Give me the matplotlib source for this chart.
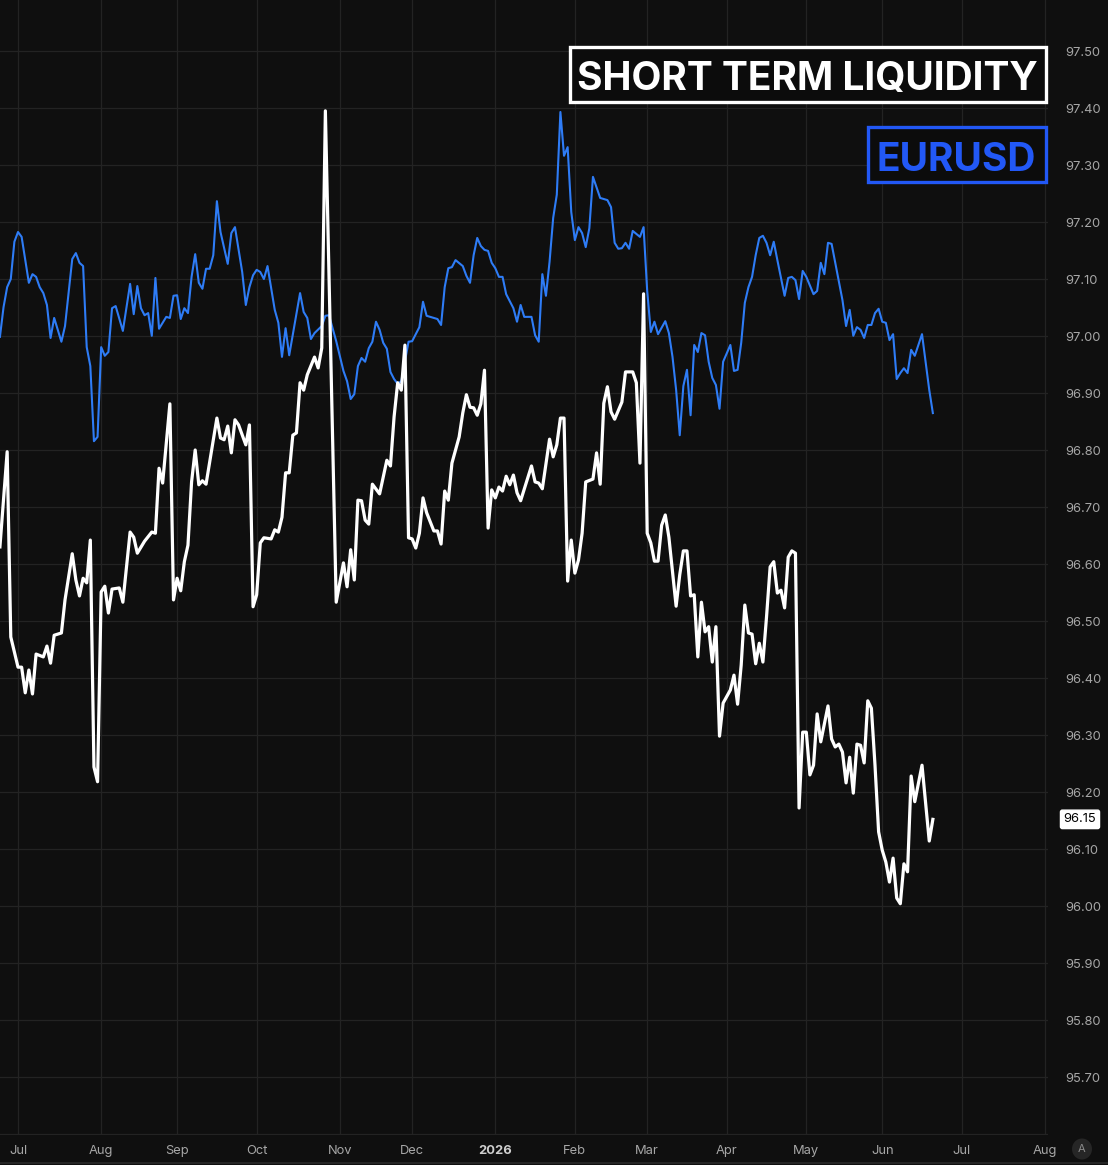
import numpy as np
import pandas as pd
import matplotlib
matplotlib.use("Agg")
import matplotlib.pyplot as plt
from matplotlib.patches import Rectangle, Circle
import matplotlib.transforms as mtransforms

# ---------------- data ----------------
start_date = "2025-06-24"      # session 0
first_month = "2025-07-01"
end_calendar = "2026-08-31"

# Short Term Liquidity (right axis), vertices by trading session
st_session = [0, 2, 3, 5, 6, 7, 8, 9, 10, 12, 13, 14, 15, 17, 18, 20, 21, 22, 23, 24,
              25, 26, 27, 28, 29, 30, 31, 33, 34, 36, 37, 38, 40, 42, 43, 44, 45, 47, 48, 49,
              50, 51, 52, 53, 54, 55, 56, 57, 60, 61, 62, 63, 64, 65, 66, 68, 69, 70, 71, 72,
              73, 75, 76, 77, 78, 79, 80, 81, 82, 83, 84, 85, 87, 88, 89, 90, 93, 95, 96, 97,
              98, 99, 100, 101, 102, 103, 105, 107, 108, 109, 110, 111, 112, 113, 114, 115, 116, 117, 118, 120,
              121, 122, 123, 124, 125, 127, 128, 129, 130, 131, 132, 133, 134, 135, 136, 137, 138, 139, 140, 141,
              142, 143, 144, 147, 148, 149, 150, 152, 153, 154, 155, 156, 157, 158, 159, 160, 161, 162, 164, 165,
              166, 167, 168, 169, 170, 172, 173, 175, 176, 177, 178, 179, 180, 181, 182, 183, 184, 185, 187, 188,
              189, 190, 191, 192, 193, 194, 195, 196, 197, 198, 199, 200, 202, 203, 204, 205, 206, 207, 208, 209,
              210, 211, 212, 213, 214, 215, 216, 217, 218, 219, 220, 221, 222, 223, 224, 225, 226, 227, 229, 230,
              231, 232, 233, 234, 235, 236, 237, 238, 239, 240, 241, 242, 243, 244, 245, 246, 247, 248, 249, 250,
              251, 252, 253, 255, 257, 258]
st_value = [96.630, 96.797, 96.472, 96.419, 96.419, 96.374, 96.414, 96.372, 96.442, 96.437,
            96.456, 96.426, 96.475, 96.479, 96.537, 96.618, 96.572, 96.544, 96.575, 96.567,
            96.642, 96.244, 96.218, 96.551, 96.561, 96.514, 96.556, 96.558, 96.533, 96.656,
            96.647, 96.619, 96.640, 96.656, 96.654, 96.768, 96.742, 96.881, 96.537, 96.575,
            96.553, 96.604, 96.633, 96.744, 96.800, 96.739, 96.746, 96.740, 96.856, 96.821,
            96.818, 96.842, 96.795, 96.853, 96.844, 96.809, 96.844, 96.525, 96.546, 96.637,
            96.646, 96.644, 96.660, 96.656, 96.682, 96.760, 96.760, 96.826, 96.830, 96.918,
            96.905, 96.932, 96.963, 96.944, 96.979, 97.395, 96.533, 96.602, 96.560, 96.625,
            96.572, 96.712, 96.711, 96.677, 96.670, 96.740, 96.723, 96.782, 96.772, 96.858,
            96.918, 96.905, 96.984, 96.646, 96.644, 96.628, 96.654, 96.716, 96.690, 96.658,
            96.658, 96.635, 96.728, 96.712, 96.777, 96.823, 96.865, 96.897, 96.875, 96.874,
            96.861, 96.881, 96.940, 96.663, 96.730, 96.716, 96.735, 96.728, 96.754, 96.739,
            96.756, 96.725, 96.711, 96.772, 96.744, 96.742, 96.732, 96.819, 96.788, 96.809,
            96.856, 96.856, 96.570, 96.642, 96.584, 96.607, 96.654, 96.744, 96.749, 96.795,
            96.740, 96.882, 96.911, 96.867, 96.854, 96.884, 96.937, 96.937, 96.918, 96.777,
            97.074, 96.654, 96.637, 96.605, 96.605, 96.668, 96.686, 96.647, 96.526, 96.581,
            96.623, 96.623, 96.544, 96.546, 96.437, 96.533, 96.481, 96.490, 96.428, 96.490,
            96.298, 96.356, 96.379, 96.405, 96.354, 96.423, 96.528, 96.479, 96.477, 96.425,
            96.461, 96.428, 96.507, 96.595, 96.604, 96.549, 96.554, 96.523, 96.612, 96.623,
            96.619, 96.172, 96.305, 96.305, 96.230, 96.247, 96.337, 96.288, 96.351, 96.293,
            96.279, 96.284, 96.270, 96.216, 96.261, 96.198, 96.284, 96.282, 96.251, 96.360,
            96.347, 96.247, 96.130, 96.098, 96.077, 96.042, 96.084, 96.014, 96.004, 96.074,
            96.060, 96.228, 96.183, 96.247, 96.114, 96.152]

# EURUSD (hidden overlay scale), vertices by trading session
eur_session = [0, 1, 2, 3, 4, 5, 6, 8, 9, 10, 11, 12, 13, 14, 15, 17, 18, 20, 21, 22,
               23, 24, 25, 26, 27, 28, 29, 30, 31, 32, 34, 36, 37, 38, 39, 40, 41, 42, 43, 44,
               46, 47, 48, 49, 50, 51, 52, 53, 54, 55, 56, 57, 58, 59, 60, 61, 63, 64, 65, 67,
               68, 69, 70, 71, 72, 73, 74, 76, 77, 78, 79, 80, 83, 84, 85, 86, 87, 89, 90, 91,
               93, 95, 96, 97, 98, 99, 100, 101, 102, 103, 104, 105, 106, 107, 108, 109, 110, 111, 113, 114,
               116, 117, 118, 121, 122, 123, 124, 125, 126, 128, 129, 130, 131, 132, 133, 134, 135, 136, 137, 138,
               139, 140, 142, 143, 144, 145, 147, 148, 149, 150, 151, 152, 153, 154, 155, 156, 157, 158, 159, 160,
               161, 162, 163, 164, 166, 168, 169, 170, 171, 172, 173, 174, 175, 177, 178, 179, 180, 181, 182, 184,
               185, 186, 187, 188, 189, 190, 191, 192, 193, 194, 195, 196, 197, 198, 199, 200, 202, 203, 204, 205,
               206, 207, 208, 209, 210, 211, 212, 213, 214, 215, 217, 218, 219, 220, 221, 222, 223, 225, 226, 227,
               228, 229, 230, 231, 232, 233, 234, 235, 236, 237, 238, 239, 240, 241, 242, 243, 244, 245, 246, 247,
               248, 249, 250, 251, 252, 253, 255, 257, 258]
eur_value = [1.1607, 1.1662, 1.1699, 1.1714, 1.1783, 1.1801, 1.1792, 1.1707, 1.1723, 1.1718,
             1.1699, 1.1688, 1.1666, 1.1605, 1.1642, 1.1598, 1.1627, 1.1751, 1.1762, 1.1744,
             1.1738, 1.1588, 1.1553, 1.1414, 1.1422, 1.1588, 1.1572, 1.1579, 1.1660, 1.1664,
             1.1618, 1.1705, 1.1649, 1.1701, 1.1660, 1.1647, 1.1651, 1.1609, 1.1716, 1.1622,
             1.1644, 1.1642, 1.1683, 1.1684, 1.1640, 1.1660, 1.1651, 1.1718, 1.1760, 1.1707,
             1.1696, 1.1733, 1.1733, 1.1758, 1.1858, 1.1801, 1.1742, 1.1799, 1.1810, 1.1727,
             1.1666, 1.1699, 1.1721, 1.1731, 1.1727, 1.1714, 1.1738, 1.1657, 1.1633, 1.1570,
             1.1623, 1.1573, 1.1688, 1.1653, 1.1642, 1.1603, 1.1614, 1.1627, 1.1646, 1.1647,
             1.1599, 1.1544, 1.1525, 1.1492, 1.1501, 1.1553, 1.1568, 1.1561, 1.1586, 1.1598,
             1.1635, 1.1620, 1.1596, 1.1585, 1.1542, 1.1529, 1.1520, 1.1525, 1.1598, 1.1599,
             1.1625, 1.1672, 1.1646, 1.1640, 1.1629, 1.1699, 1.1734, 1.1736, 1.1749, 1.1738,
             1.1720, 1.1707, 1.1758, 1.1790, 1.1775, 1.1768, 1.1766, 1.1744, 1.1734, 1.1718,
             1.1718, 1.1686, 1.1660, 1.1635, 1.1666, 1.1644, 1.1644, 1.1610, 1.1598, 1.1723,
             1.1683, 1.1746, 1.1827, 1.1870, 1.2023, 1.1942, 1.1958, 1.1838, 1.1786, 1.1810,
             1.1799, 1.1773, 1.1808, 1.1903, 1.1864, 1.1860, 1.1847, 1.1781, 1.1770, 1.1771,
             1.1781, 1.1770, 1.1803, 1.1792, 1.1810, 1.1692, 1.1616, 1.1635, 1.1612, 1.1636,
             1.1614, 1.1570, 1.1509, 1.1425, 1.1516, 1.1546, 1.1462, 1.1592, 1.1579, 1.1614,
             1.1610, 1.1561, 1.1531, 1.1518, 1.1474, 1.1561, 1.1592, 1.1544, 1.1546, 1.1596,
             1.1670, 1.1699, 1.1718, 1.1758, 1.1790, 1.1794, 1.1781, 1.1758, 1.1783, 1.1749,
             1.1683, 1.1716, 1.1718, 1.1712, 1.1677, 1.1729, 1.1718, 1.1686, 1.1692, 1.1744,
             1.1723, 1.1781, 1.1779, 1.1744, 1.1710, 1.1675, 1.1627, 1.1657, 1.1609, 1.1625,
             1.1620, 1.1605, 1.1629, 1.1629, 1.1651, 1.1659, 1.1635, 1.1633, 1.1601, 1.1612,
             1.1529, 1.1540, 1.1549, 1.1540, 1.1583, 1.1572, 1.1612, 1.1509, 1.1466]

y_ticks = [95.70, 95.80, 95.90, 96.00, 96.10, 96.20, 96.30, 96.40, 96.50, 96.60,
           96.70, 96.80, 96.90, 97.00, 97.10, 97.20, 97.30, 97.40, 97.50]
month_labels = ["Jul", "Aug", "Sep", "Oct", "Nov", "Dec", "2026", "Feb",
                "Mar", "Apr", "May", "Jun", "Jul", "Aug"]
title_main = "SHORT TERM LIQUIDITY"
title_sub = "EURUSD"

# ---------------- style ----------------
BG = "#0f0f0f"
GRID = "#232323"
TXT = "#a6a6a6"
WHITE = "#ffffff"
LINE_BLUE = "#2e7cf6"
TITLE_BLUE = "#2258f6"

plt.rcParams["font.family"] = ["Inter", "DejaVu Sans"]

W, H = 1108, 1165
fig = plt.figure(figsize=(W / 100, H / 100), dpi=100, facecolor=BG)
plot_right, plot_bottom = 1048, 1135
ax = fig.add_axes([0, 1 - plot_bottom / H, plot_right / W, plot_bottom / H])
ax.set_facecolor(BG)
ax2 = ax.twinx()

# calendar of sessions -> month tick positions
sessions = pd.bdate_range(start_date, end_calendar)
sess_idx = pd.Series(np.arange(len(sessions)), index=sessions)
sess_idx = sess_idx[sess_idx.index >= pd.Timestamp(first_month)]
first_of_month = sess_idx.groupby([sess_idx.index.year, sess_idx.index.month]).min()
month_pos = list(first_of_month.values[:len(month_labels)])

px_per_session = 3.616
ax.set_xlim(0.02, 0.02 + plot_right / px_per_session)
ax2.set_ylim(97.5 - (plot_bottom - 51) / 570, 97.5 + 51 / 570)
ax.set_ylim(1.1801 - (plot_bottom - 232) * 0.000185, 1.1801 + 232 * 0.000185)

# grid (vertical at months, horizontal at price ticks) beneath both lines
for m in month_pos:
    ax.axvline(m, color=GRID, lw=0.9, zorder=0)
hgrid_tr = mtransforms.blended_transform_factory(ax.transAxes, ax2.transData)
for t in y_ticks + [95.60]:
    ax.plot([0, 1], [t, t], transform=hgrid_tr, color=GRID, lw=0.9, zorder=0)

# lines
ax.plot(eur_session, eur_value, color=LINE_BLUE, lw=1.5, zorder=2)
ax2.plot(st_session, st_value, color=WHITE, lw=2.3, zorder=2)
ax2.set_zorder(ax.get_zorder() + 1)
ax2.patch.set_visible(False)

ax.set_yticks([])
ax.set_xticks(month_pos)
ax.set_xticklabels(month_labels)
for lbl, txt in zip(ax.get_xticklabels(), month_labels):
    lbl.set_color("#cfcfcf" if txt == "2026" else TXT)
    lbl.set_fontweight("bold" if txt == "2026" else "normal")
    lbl.set_fontsize(9.3)
ax.tick_params(axis="x", length=0, pad=7)

ax2.set_yticks(y_ticks)
ax2.set_yticklabels([f"{t:.2f}" for t in y_ticks])
ax2.tick_params(axis="y", length=0, pad=12.5, labelsize=9.3, labelcolor=TXT)
for a in (ax, ax2):
    for s in a.spines.values():
        s.set_visible(False)

# last value label
last = st_value[-1]
tr = mtransforms.blended_transform_factory(fig.transFigure, ax2.transData)
ax2.text(1080 / W, last, f"{last:.2f}", transform=tr, ha="center", va="center",
         fontsize=9.3, color="#000000", zorder=10, clip_on=False,
         bbox=dict(boxstyle="round,pad=0.25,rounding_size=0.15", fc=WHITE, ec=WHITE))

# title boxes
def fx(px):
    return px / W

def fy(py):
    return 1 - py / H

fig.add_artist(Rectangle((fx(569.5), fy(102)), fx(1045.5) - fx(569.5), fy(46.5) - fy(102),
                         transform=fig.transFigure, fc="#0c0c0c", ec=WHITE, lw=2.4, zorder=20))
fig.text(fx(807.5), fy(90), title_main, ha="center", va="baseline", fontsize=28,
         fontweight="bold", color=WHITE, zorder=21)
fig.add_artist(Rectangle((fx(867.5), fy(182)), fx(1045.5) - fx(867.5), fy(126.5) - fy(182),
                         transform=fig.transFigure, fc="#0c0c0c", ec=TITLE_BLUE, lw=2.4, zorder=20))
fig.text(fx(956.5), fy(171), title_sub, ha="center", va="baseline", fontsize=28,
         fontweight="bold", color=TITLE_BLUE, zorder=21)

# auto-scale badge and bottom separator
fig.add_artist(Circle((fx(1082), fy(1149)), 10 / W, transform=fig.transFigure,
                      fc="#262626", ec="none", zorder=5))
fig.text(fx(1082), fy(1149), "A", ha="center", va="center", fontsize=8, color="#8a8a8a", zorder=6)
fig.add_artist(plt.Line2D([0, 1], [fy(1163), fy(1163)], transform=fig.transFigure,
                          color="#2a2a2a", lw=1.2))

fig.savefig("out.png", dpi=100, facecolor=BG)
